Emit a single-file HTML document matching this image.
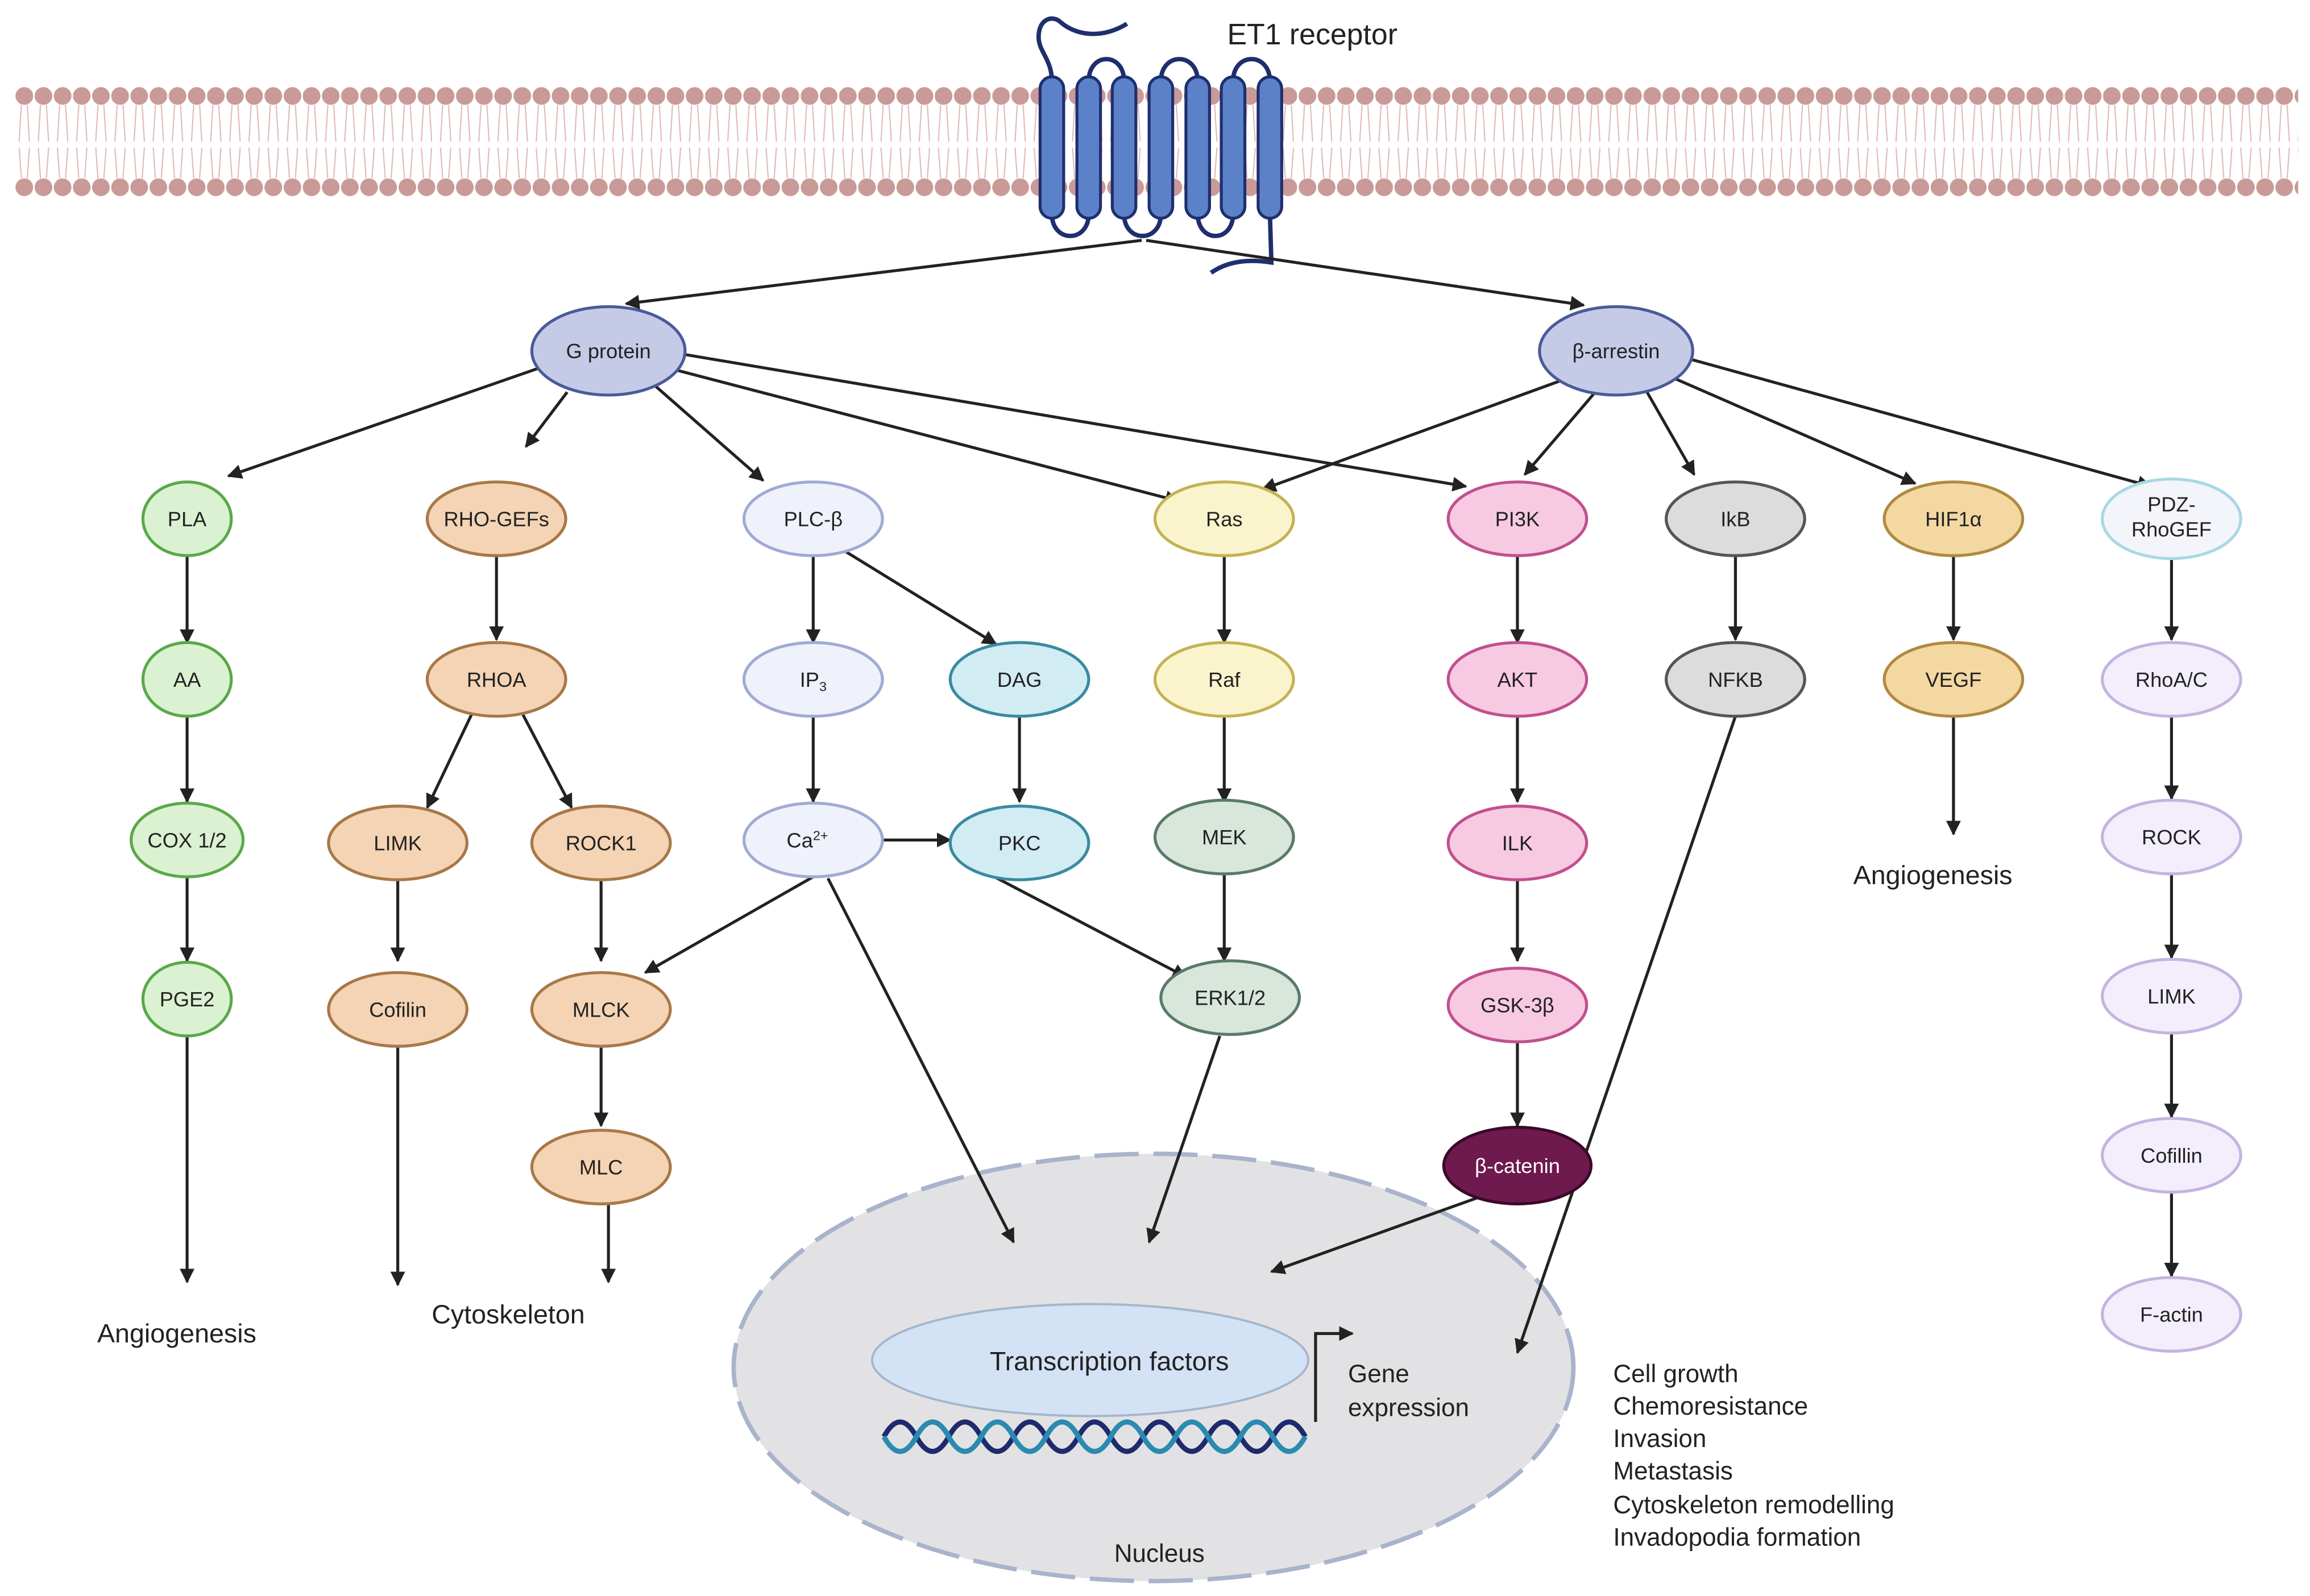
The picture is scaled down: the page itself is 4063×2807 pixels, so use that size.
<!DOCTYPE html>
<html><head><meta charset="utf-8"><style>html,body{margin:0;padding:0;background:#fff}svg{display:block}</style></head><body>
<svg width="4063" height="2807" viewBox="0 0 1568 1083" xmlns="http://www.w3.org/2000/svg" font-family="Liberation Sans, sans-serif">
<defs>
<marker id="a" viewBox="0 0 10 10" refX="9" refY="5" markerWidth="5" markerHeight="5" orient="auto"><path d="M0,0 L10,5 L0,10 z" fill="#222"/></marker>
<pattern id="lip" x="10" y="0" width="13" height="140" patternUnits="userSpaceOnUse">
<circle cx="6.5" cy="65" r="6" fill="#c99a98"/><circle cx="6.5" cy="127" r="6" fill="#c99a98"/>
<path d="M4.5,71 L3,96 M8.5,71 L10,96 M4.5,121 L3,100 M8.5,121 L10,100" stroke="#e0b8b8" stroke-width="0.8" fill="none"/>
</pattern>
</defs>
<rect width="1568" height="1083" fill="#fff"/>
<rect x="10" y="55" width="1550" height="80" fill="url(#lip)"/>
<!-- receptor -->
<g stroke="#1f2f6e" stroke-width="3" fill="none">
<path d="M714,55 C714,40 705,35 705,25 C705,12 715,10 720,15 C728,22 745,28 765,16"/>
<path d="M739,55 C739,35 763,35 763,55"/>
<path d="M788,55 C788,35 813,35 813,55"/>
<path d="M837,55 C837,35 862,35 862,55"/>
<path d="M714,145 C714,165 739,165 739,145"/>
<path d="M763,145 C763,165 788,165 788,145"/>
<path d="M813,145 C813,165 837,165 837,145"/>
<path d="M862,145 L863,178 C850,176 835,176 822,185"/>
</g>
<g fill="#5b82c8" stroke="#1f2f6e" stroke-width="2">
<rect x="706" y="52" width="16" height="96" rx="8"/><rect x="731" y="52" width="16" height="96" rx="8"/>
<rect x="755" y="52" width="16" height="96" rx="8"/><rect x="780" y="52" width="16" height="96" rx="8"/>
<rect x="805" y="52" width="16" height="96" rx="8"/><rect x="829" y="52" width="16" height="96" rx="8"/>
<rect x="854" y="52" width="16" height="96" rx="8"/>
</g>
<text x="833" y="30" font-size="20" fill="#222">ET1 receptor</text>
<!-- nucleus -->
<ellipse cx="783" cy="928" rx="285" ry="145" fill="#e2e2e4" stroke="#a8b4cc" stroke-width="3" stroke-dasharray="30,10"/>
<ellipse cx="740" cy="923" rx="148" ry="38" fill="#d3e2f4" stroke="#a4b6cc" stroke-width="1.5"/>
<text x="753" y="930" font-size="18" text-anchor="middle" fill="#222">Transcription factors</text>
<path d="M600,975 Q611,955 622,975 T644,975 T666,975 T688,975 T710,975 T732,975 T754,975 T776,975 T798,975 T820,975 T842,975 T864,975 T886,975" stroke="#1e2a6e" stroke-width="3.5" fill="none"/>
<path d="M600,975 Q611,995 622,975 T644,975 T666,975 T688,975 T710,975 T732,975 T754,975 T776,975 T798,975 T820,975 T842,975 T864,975 T886,975" stroke="#2a8ab0" stroke-width="3.5" fill="none"/>
<path d="M893,965 L893,905 L918,905" stroke="#222" stroke-width="2" fill="none" marker-end="url(#a)"/>
<text font-size="17" fill="#222"><tspan x="915" y="938">Gene</tspan><tspan x="915" y="961">expression</tspan></text>
<text x="787" y="1060" font-size="17" text-anchor="middle" fill="#222">Nucleus</text>
<text font-size="17" fill="#222"><tspan x="1095" y="938">Cell growth</tspan><tspan x="1095" y="960">Chemoresistance</tspan><tspan x="1095" y="982">Invasion</tspan><tspan x="1095" y="1004">Metastasis</tspan><tspan x="1095" y="1027">Cytoskeleton remodelling</tspan><tspan x="1095" y="1049">Invadopodia formation</tspan></text>
<text x="120" y="911" font-size="18" text-anchor="middle" fill="#222">Angiogenesis</text>
<text x="345" y="898" font-size="18" text-anchor="middle" fill="#222">Cytoskeleton</text>
<text x="1312" y="600" font-size="18" text-anchor="middle" fill="#222">Angiogenesis</text>
<!-- arrows -->
<g stroke="#222" stroke-width="2" fill="none" marker-end="url(#a)">
<line x1="775" y1="163" x2="425" y2="206"/><line x1="778" y1="163" x2="1075" y2="207"/>
<line x1="365" y1="250" x2="155" y2="323"/><line x1="385" y1="266" x2="357" y2="303"/>
<line x1="445" y1="262" x2="518" y2="326"/><line x1="455" y1="250" x2="800" y2="340"/>
<line x1="462" y1="240" x2="995" y2="330"/>
<line x1="1060" y1="258" x2="857" y2="332"/><line x1="1082" y1="267" x2="1035" y2="322"/>
<line x1="1118" y1="266" x2="1150" y2="322"/><line x1="1135" y1="256" x2="1300" y2="328"/>
<line x1="1145" y1="243" x2="1460" y2="330"/>
<line x1="127" y1="377" x2="127" y2="436"/><line x1="127" y1="485" x2="127" y2="544"/><line x1="127" y1="594" x2="127" y2="652"/><line x1="127" y1="702" x2="127" y2="870"/>
<line x1="337" y1="377" x2="337" y2="434"/>
<line x1="320" y1="485" x2="290" y2="548"/><line x1="355" y1="485" x2="388" y2="548"/>
<line x1="270" y1="595" x2="270" y2="652"/><line x1="408" y1="596" x2="408" y2="652"/>
<line x1="270" y1="710" x2="270" y2="872"/><line x1="408" y1="704" x2="408" y2="764"/><line x1="413" y1="816" x2="413" y2="870"/>
<line x1="552" y1="377" x2="552" y2="436"/><line x1="572" y1="373" x2="676" y2="437"/>
<line x1="552" y1="485" x2="552" y2="544"/><line x1="692" y1="486" x2="692" y2="544"/>
<line x1="585" y1="570" x2="645" y2="570"/>
<line x1="552" y1="595" x2="438" y2="660"/>
<line x1="562" y1="596" x2="688" y2="843"/>
<line x1="675" y1="595" x2="805" y2="663"/>
<line x1="831" y1="377" x2="831" y2="436"/><line x1="831" y1="486" x2="831" y2="544"/><line x1="831" y1="594" x2="831" y2="652"/>
<line x1="828" y1="703" x2="780" y2="843"/>
<line x1="1030" y1="377" x2="1030" y2="436"/><line x1="1030" y1="486" x2="1030" y2="544"/><line x1="1030" y1="596" x2="1030" y2="652"/><line x1="1030" y1="704" x2="1030" y2="764"/>
<line x1="1022" y1="806" x2="863" y2="863"/>
<line x1="1178" y1="377" x2="1178" y2="434"/>
<line x1="1178" y1="486" x2="1030" y2="918"/>
<line x1="1326" y1="377" x2="1326" y2="434"/><line x1="1326" y1="486" x2="1326" y2="566"/>
<line x1="1474" y1="380" x2="1474" y2="434"/><line x1="1474" y1="486" x2="1474" y2="542"/><line x1="1474" y1="594" x2="1474" y2="650"/><line x1="1474" y1="702" x2="1474" y2="758"/><line x1="1474" y1="810" x2="1474" y2="866"/>
</g>
<!-- nodes -->
<g font-size="14" text-anchor="middle" stroke-width="2">
<g fill="#c5cbe6" stroke="#4a5a9a"><ellipse cx="413" cy="238" rx="52" ry="30"/><ellipse cx="1097" cy="238" rx="52" ry="30"/></g>
<g fill="#dbf2d2" stroke="#5aa84a"><ellipse cx="127" cy="352" rx="30" ry="25"/><ellipse cx="127" cy="461" rx="30" ry="25"/><ellipse cx="127" cy="570" rx="38" ry="25"/><ellipse cx="127" cy="678" rx="30" ry="25"/></g>
<g fill="#f4d4b4" stroke="#a87848"><ellipse cx="337" cy="352" rx="47" ry="25"/><ellipse cx="337" cy="461" rx="47" ry="25"/><ellipse cx="270" cy="572" rx="47" ry="25"/><ellipse cx="408" cy="572" rx="47" ry="25"/><ellipse cx="270" cy="685" rx="47" ry="25"/><ellipse cx="408" cy="685" rx="47" ry="25"/><ellipse cx="408" cy="792" rx="47" ry="25"/></g>
<g fill="#f0f2fb" stroke="#a0aad4"><ellipse cx="552" cy="352" rx="47" ry="25"/><ellipse cx="552" cy="461" rx="47" ry="25"/><ellipse cx="552" cy="570" rx="47" ry="25"/></g>
<g fill="#d2ecf4" stroke="#3a8aa0"><ellipse cx="692" cy="461" rx="47" ry="25"/><ellipse cx="692" cy="572" rx="47" ry="25"/></g>
<g fill="#faf4cc" stroke="#c4b254"><ellipse cx="831" cy="352" rx="47" ry="25"/><ellipse cx="831" cy="461" rx="47" ry="25"/></g>
<g fill="#d8e6dc" stroke="#5a7a6a"><ellipse cx="831" cy="568" rx="47" ry="25"/><ellipse cx="835" cy="677" rx="47" ry="25"/></g>
<g fill="#f8cae2" stroke="#c0508e"><ellipse cx="1030" cy="352" rx="47" ry="25"/><ellipse cx="1030" cy="461" rx="47" ry="25"/><ellipse cx="1030" cy="572" rx="47" ry="25"/><ellipse cx="1030" cy="682" rx="47" ry="25"/></g>
<ellipse cx="1030" cy="791" rx="50" ry="26" fill="#6e1a4e" stroke="#3a0a28"/>
<g fill="#dcdcdc" stroke="#555"><ellipse cx="1178" cy="352" rx="47" ry="25"/><ellipse cx="1178" cy="461" rx="47" ry="25"/></g>
<g fill="#f3d8a2" stroke="#b08a40"><ellipse cx="1326" cy="352" rx="47" ry="25"/><ellipse cx="1326" cy="461" rx="47" ry="25"/></g>
<ellipse cx="1474" cy="352" rx="47" ry="27" fill="#f4f4fb" stroke="#a8d8e4"/>
<g fill="#f3eefb" stroke="#c4b4e0"><ellipse cx="1474" cy="461" rx="47" ry="25"/><ellipse cx="1474" cy="568" rx="47" ry="25"/><ellipse cx="1474" cy="676" rx="47" ry="25"/><ellipse cx="1474" cy="784" rx="47" ry="25"/><ellipse cx="1474" cy="892" rx="47" ry="25"/></g>
<g fill="#222" stroke="none">
<text x="413" y="243">G protein</text><text x="1097" y="243">β-arrestin</text>
<text x="127" y="357">PLA</text><text x="127" y="466">AA</text><text x="127" y="575">COX 1/2</text><text x="127" y="683">PGE2</text>
<text x="337" y="357">RHO-GEFs</text><text x="337" y="466">RHOA</text><text x="270" y="577">LIMK</text><text x="408" y="577">ROCK1</text><text x="270" y="690">Cofilin</text><text x="408" y="690">MLCK</text><text x="408" y="797">MLC</text>
<text x="552" y="357">PLC-β</text><text x="552" y="466">IP<tspan font-size="9" dy="3">3</tspan></text><text x="548" y="575">Ca<tspan font-size="9" dy="-5">2+</tspan></text>
<text x="692" y="466">DAG</text><text x="692" y="577">PKC</text>
<text x="831" y="357">Ras</text><text x="831" y="466">Raf</text><text x="831" y="573">MEK</text><text x="835" y="682">ERK1/2</text>
<text x="1030" y="357">PI3K</text><text x="1030" y="466">AKT</text><text x="1030" y="577">ILK</text><text x="1030" y="687">GSK-3β</text>
<text x="1030" y="796" fill="#fff">β-catenin</text>
<text x="1178" y="357">IkB</text><text x="1178" y="466">NFKB</text>
<text x="1326" y="357">HIF1α</text><text x="1326" y="466">VEGF</text>
<text x="1474" y="347">PDZ-</text><text x="1474" y="364">RhoGEF</text>
<text x="1474" y="466">RhoA/C</text><text x="1474" y="573">ROCK</text><text x="1474" y="681">LIMK</text><text x="1474" y="789">Cofillin</text><text x="1474" y="897">F-actin</text>
</g>
</g>
</svg>
</body></html>
